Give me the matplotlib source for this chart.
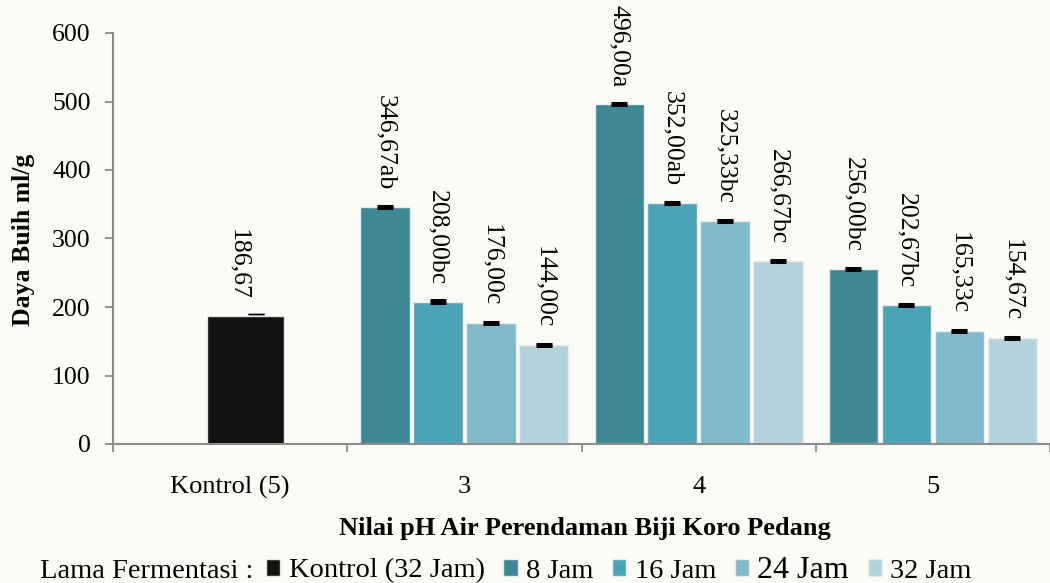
import matplotlib.pyplot as plt
import numpy as np

plt.rcParams['font.family'] = ['Liberation Serif', 'DejaVu Serif']

# pH groups and foam capacity (ml/g) per fermentation time
groups = ['Kontrol (5)', '3', '4', '5']
kontrol = 186.67
jam8 = [346.67, 496.00, 256.00]
jam16 = [208.00, 352.00, 202.67]
jam24 = [176.00, 325.33, 165.33]
jam32 = [144.00, 266.67, 154.67]
notasi8 = ['ab', 'a', 'bc']
notasi16 = ['bc', 'ab', 'bc']
notasi24 = ['c', 'bc', 'c']
notasi32 = ['c', 'bc', 'c']
series_names = ['8 Jam', '16 Jam', '24 Jam', '32 Jam']

colors = ['#3e8896', '#4ba3b6', '#7fb9ca', '#b5d3dc']
bg = '#fcfcf6'

fig = plt.figure(figsize=(10.5, 5.83), dpi=100)
fig.patch.set_facecolor(bg)
ax = fig.add_axes([113 / 1050, 1 - 444 / 583, (1050 - 113) / 1050, (444 - 33) / 583])
ax.set_facecolor(bg)

step = 0.226
width = 0.211

def label(x, v, txt):
    ax.annotate(txt, (x, v), xytext=(0, 12), textcoords='offset points',
                rotation=-90, ha='center', va='bottom', fontsize=18.5)

# control bar (group 0)
kx = 0.066
ax.bar(kx, kontrol, width=0.328, color='#111111', edgecolor='#e6e6e6', linewidth=1,
       label='Kontrol (32 Jam)', zorder=2)
ax.errorbar(kx + 0.045, kontrol + 3, yerr=0.3, color='black', capsize=6, capthick=1,
            elinewidth=1, zorder=3)
label(kx - 0.03, kontrol, f'{kontrol:.2f}'.replace('.', ','))

xg = np.arange(1, 4)
all_vals = [jam8, jam16, jam24, jam32]
all_not = [notasi8, notasi16, notasi24, notasi32]
for i, (vals, nots, name) in enumerate(zip(all_vals, all_not, series_names)):
    xs = xg + (i - 1.5) * step
    ax.bar(xs, vals, width=width, color=colors[i], edgecolor='#ececec', linewidth=1,
           label=name, zorder=2)
    ax.errorbar(xs, vals, yerr=1.5, fmt='none', ecolor='black', capsize=6,
                capthick=2.2, elinewidth=2.2, zorder=3)
    for x, v, n in zip(xs, vals, nots):
        label(x, v, f'{v:.2f}'.replace('.', ',') + n)

ax.set_xlim(-0.5, -0.5 + (1050 - 113) / 234.5)
ax.set_ylim(0, 600)
ax.set_yticks(range(0, 601, 100))
ax.set_xticks(range(4))
ax.set_xticklabels(groups)
ax.set_xticks(np.arange(-0.5, 4, 1), minor=True)
ax.tick_params(axis='x', which='major', length=0, pad=23, labelsize=19)
ax.tick_params(axis='x', which='minor', length=6, width=1.3, color='#8c8c8c')
ax.tick_params(axis='y', length=6, width=1.3, color='#8c8c8c', pad=10, labelsize=18.5)

for s in ['top', 'right']:
    ax.spines[s].set_visible(False)
for s in ['left', 'bottom']:
    ax.spines[s].set_color('#8c8c8c')
    ax.spines[s].set_linewidth(1.5)

fig.text(24 / 1050, 1 - 240 / 583, 'Daya Buih ml/g', rotation=90, ha='center', va='center',
         fontsize=18.5, fontweight='bold')
fig.text(585 / 1050, 1 - 528 / 583, 'Nilai pH Air Perendaman Biji Koro Pedang',
         ha='center', va='center', fontsize=19, fontweight='bold')

fig.text(40 / 1050, 1 - 571 / 583, 'Lama Fermentasi :', ha='left', va='center', fontsize=20.5)
handles, labels = ax.get_legend_handles_labels()
leg = fig.legend(handles, labels, loc='center left', bbox_to_anchor=(266 / 1050, 1 - 570 / 583),
                 ncol=5, frameon=False, fontsize=20.5, handlelength=0.5, handleheight=0.5,
                 handletextpad=0.3, columnspacing=0.65, borderpad=0, borderaxespad=0)
leg.get_texts()[3].set_fontsize(23)

fig.savefig('out.png', dpi=100, facecolor=bg)
